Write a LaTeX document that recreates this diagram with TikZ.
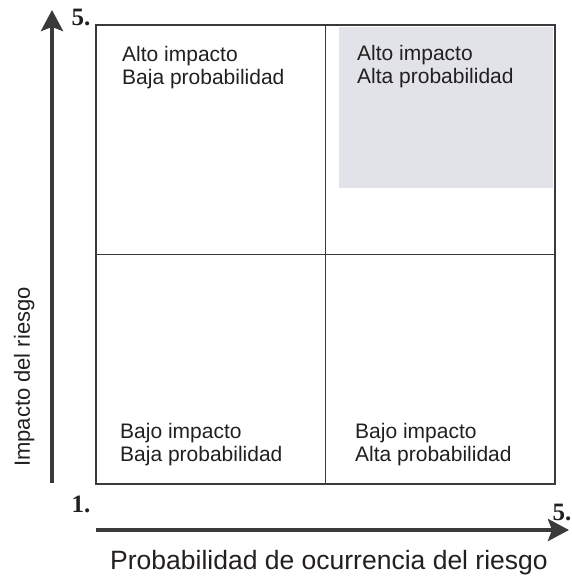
\documentclass[tikz,border=0pt]{standalone}
\usepackage{fontspec}
\setmainfont{Liberation Sans}
\newfontfamily\numfont{Liberation Serif}
\usetikzlibrary{arrows.meta}
\definecolor{linegray}{HTML}{3A3A3A}
\definecolor{textgray}{HTML}{231F20}
\definecolor{cellgray}{HTML}{E1E3E8}

\begin{document}
\begin{tikzpicture}[x=1pt,y=-1pt,
		celltext/.style={anchor=north west, inner sep=0pt, align=left, text=textgray, font=\fontsize{21}{23.5}\selectfont},
		ticklabel/.style={anchor=base, inner sep=0pt, text=textgray, font=\numfont\bfseries\fontsize{25}{25}\selectfont},
		axisarrow/.style={draw=linegray, line width=4pt, -{Stealth[length=21pt,width=22pt,inset=4pt]}}]
	\useasboundingbox (0,0) rectangle (571,576);
		%Matrix
			%shaded quadrant
				\fill[cellgray] (339,27) rectangle (553,188);
			%inner lines
				\draw[linegray, line width=1pt] (325,25) -- (325,484);
				\draw[linegray, line width=1pt] (96,254) -- (555,254);
			%outer box
				\draw[linegray, line width=2.5pt] (96,25) rectangle (555,484);
			%quadrant texts
				\node[celltext] (highlow) at (122,46) {Alto impacto\\Baja probabilidad};
				\node[celltext] (highhigh) at (357,45) {Alto impacto\\Alta probabilidad};
				\node[celltext] (lowlow) at (120,423) {Bajo impacto\\Baja probabilidad};
				\node[celltext] (lowhigh) at (355,423) {Bajo impacto\\Alta probabilidad};
		%Axes
			%impact
				\coordinate (impactstart) at (52,483);
				\coordinate (impactend) at (52,10);
				\draw[axisarrow] (impactstart) -- (impactend);
				\node[anchor=base, rotate=90, inner sep=0pt, text=textgray, font=\fontsize{22}{22}\selectfont] (impactlabel) at (30,377) {Impacto del riesgo};
			%probability
				\coordinate (probstart) at (96,530);
				\coordinate (probend) at (569,530);
				\draw[axisarrow] (probstart) -- (probend);
				\node[anchor=base, inner sep=0pt, text=textgray, font=\fontsize{26.5}{26.5}\selectfont] (problabel) at (329,569) {Probabilidad de ocurrencia del riesgo};
			%scale marks
				\node[ticklabel] (impacttop) at (81,25) {5.};
				\node[ticklabel] (origin) at (81,512) {1.};
				\node[ticklabel] (probtop) at (562,520) {5.};
\end{tikzpicture}
\end{document}
